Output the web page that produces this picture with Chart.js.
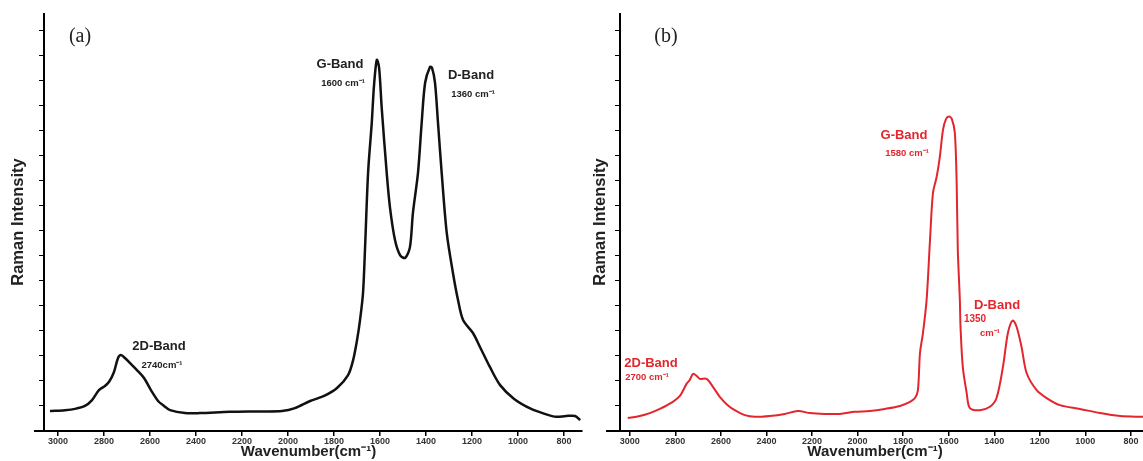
<!DOCTYPE html>
<html><head><meta charset="utf-8">
<script src="https://cdn.jsdelivr.net/npm/chart.js@4.4.0/dist/chart.umd.min.js"></script>
<style>
html,body{margin:0;padding:0;background:#fff;overflow:hidden}
#wrap{position:relative;width:1143px;height:461px}
canvas{position:absolute;top:0}
#ca{left:0}
#cb{left:590px}
</style></head><body>
<div id="wrap">
<canvas id="ca" width="590" height="461"></canvas>
<canvas id="cb" width="553" height="461"></canvas>
</div>
<script>
// ---- data ----
const xTickLabels = [3000,2800,2600,2400,2200,2000,1800,1600,1400,1200,1000,800];

const wavenumberA = [3035,2970,2926,2883,2852,2822,2796,2778,2757,2739,2726,2709,2687,2657,2626,2596,2565,2539,2513,2448,2383,2252,2122,2026,1970,1904,1843,1787,1739,1717,1700,1687,1674,1665,1652,1636,1626,1614,1604,1593,1571,1557,1535,1513,1491,1470,1457,1435,1419,1404,1383,1374,1361,1348,1332,1310,1283,1261,1239,1196,1165,1122,1078,1017,943,883,835,791,752,730];
const intensityA = [4.8,5.0,5.3,6.0,7.4,9.8,10.8,11.8,14.1,17.5,18.2,17.5,16.3,14.6,12.7,9.8,7.2,6.0,5.0,4.3,4.3,4.6,4.7,4.8,5.5,7.2,8.4,10.3,13.4,17.0,21.8,26.6,33.1,44.1,61.9,73.9,83.0,89.0,87.1,77.7,61.9,53.7,45.8,42.2,41.5,44.1,52.3,61.9,73.9,83.5,87.3,87.1,83.5,73.9,61.9,47.5,37.9,31.4,26.6,23.5,20.1,15.3,11.0,7.7,5.3,4.1,3.4,3.6,3.6,2.6];

const wavenumberB = [3009,2956,2912,2868,2811,2780,2751,2737,2722,2706,2693,2663,2635,2605,2570,2539,2495,2451,2385,2319,2262,2209,2144,2078,2012,1946,1880,1814,1770,1748,1735,1726,1713,1697,1682,1669,1653,1639,1625,1612,1598,1586,1573,1565,1560,1551,1548,1538,1521,1507,1463,1419,1390,1362,1340,1319,1302,1280,1258,1214,1170,1112,1024,936,848,747];
const intensityB = [3.1,3.6,4.3,5.3,7.0,8.4,11.3,12.2,13.7,13.2,12.5,12.5,10.6,8.2,6.2,5.0,3.8,3.4,3.6,4.1,4.8,4.3,4.1,4.1,4.6,4.8,5.3,6.0,7.0,7.9,9.8,18.7,23.5,31.4,45.8,57.1,60.9,65.7,72.2,74.8,75.4,74.8,71.5,59.5,43.4,31.4,24.9,15.3,9.1,5.5,5.0,5.8,7.9,15.3,23.5,26.5,25.0,20.1,13.9,9.8,7.9,6.2,5.3,4.3,3.6,3.4];

const yTickValues = [0,6,12,18,24,30,36,42,48,54,60,66,72,78,84,90,96];

// ---- drawing ----
const FAM = '"Liberation Sans", Arial, sans-serif';
const textPlugin = {
  id: 'texts',
  afterDraw(chart, args, opts) {
    const ctx = chart.ctx;
    ctx.save();
    (opts.items || []).forEach(t => {
      ctx.font = t.font;
      ctx.fillStyle = t.color;
      ctx.textAlign = 'center';
      ctx.textBaseline = 'middle';
      if (t.rotate) {
        ctx.save(); ctx.translate(t.x, t.y); ctx.rotate(-Math.PI / 2);
        ctx.fillText(t.text, 0, 0); ctx.restore();
      } else ctx.fillText(t.text, t.x, t.y);
    });
    ctx.restore();
  }
};

function makeChart(id, xs, ys, color, lw, xmin, yAxisAt, padLeft, padRight, items) {
  return new Chart(document.getElementById(id), {
    type: 'line',
    data: { datasets: [{ data: xs.map((x, i) => ({ x, y: ys[i] })), borderColor: color, borderWidth: lw, pointRadius: 0, tension: 0.3, fill: false }] },
    options: {
      responsive: false, animation: false, devicePixelRatio: 1,
      layout: { padding: { left: padLeft, right: padRight, top: 14, bottom: 0 } },
      plugins: { legend: { display: false }, tooltip: { enabled: false }, texts: { items } },
      scales: {
        x: {
          type: 'linear', reverse: true, min: xmin, max: 3100,
          afterBuildTicks: s => { s.ticks = xTickLabels.map(v => ({ value: v })); },
          afterFit: s => { s.height = 30; },
          ticks: { autoSkip: false, maxRotation: 0, padding: 0, color: '#333', font: { family: FAM, size: 9, weight: 'bold' },
                   callback: v => String(v) },
          grid: { drawOnChartArea: false, drawTicks: true, tickLength: 5, color: '#000', lineWidth: 1.5 },
          border: { color: '#000', width: 2 },
          title: { display: true, text: 'Wavenumber(cm⁻¹)', color: '#222', padding: 0, font: { family: FAM, size: 15, weight: 'bold' } }
        },
        y: {
          type: 'linear', min: 0, max: 100, position: { x: yAxisAt },
          afterBuildTicks: s => { s.ticks = yTickValues.map(v => ({ value: v })); },
          afterFit: s => { s.width = 0; },
          ticks: { display: false },
          grid: { drawOnChartArea: false, drawTicks: true, tickLength: 4, color: '#000', lineWidth: 1 },
          border: { color: '#000', width: 2 }
        }
      }
    },
    plugins: [textPlugin]
  });
}

const bold = s => 'bold ' + s + 'px ' + FAM;
const BLK = '#222', RED = '#e3262e';

makeChart('ca', wavenumberA, intensityA, '#111', 2.5, 722, 3060, 35, 8, [
  { text: '(a)', x: 80, y: 37, font: '20px "Liberation Serif", "Times New Roman", serif', color: BLK },
  { text: 'Raman Intensity', x: 18, y: 222, rotate: true, font: bold(16.5), color: BLK },
  { text: 'G-Band', x: 340, y: 64, font: bold(13), color: BLK },
  { text: '1600 cm⁻¹', x: 343, y: 83, font: bold(9.5), color: BLK },
  { text: 'D-Band', x: 471, y: 75, font: bold(13), color: BLK },
  { text: '1360 cm⁻¹', x: 473, y: 94, font: bold(9.5), color: BLK },
  { text: '2D-Band', x: 159, y: 346, font: bold(13), color: BLK },
  { text: '2740cm⁻¹', x: 162, y: 365, font: bold(9.5), color: BLK }
]);

makeChart('cb', wavenumberB, intensityB, RED, 2, 747, 3042, 17, 0, [
  { text: '(b)', x: 76, y: 37, font: '20px "Liberation Serif", "Times New Roman", serif', color: BLK },
  { text: 'Raman Intensity', x: 10, y: 222, rotate: true, font: bold(16.5), color: BLK },
  { text: 'G-Band', x: 314, y: 135, font: bold(13), color: RED },
  { text: '1580 cm⁻¹', x: 317, y: 153, font: bold(9.5), color: RED },
  { text: 'D-Band', x: 407, y: 305, font: bold(13), color: RED },
  { text: '1350', x: 385, y: 319, font: bold(10), color: RED },
  { text: 'cm⁻¹', x: 400, y: 333, font: bold(9.5), color: RED },
  { text: '2D-Band', x: 61, y: 363, font: bold(13), color: RED },
  { text: '2700 cm⁻¹', x: 57, y: 377, font: bold(9.5), color: RED }
]);
</script>
</body></html>
